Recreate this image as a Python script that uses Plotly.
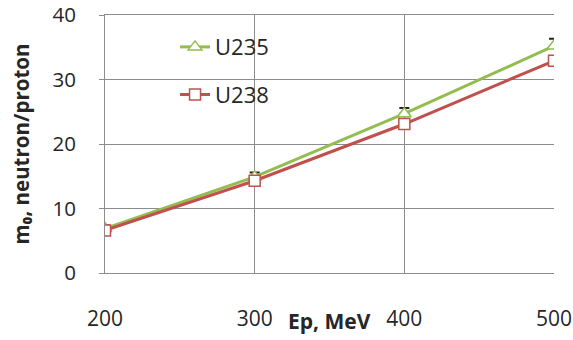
import plotly.graph_objects as go

ep = [200, 300, 400, 500]
u235 = [6.9, 14.9, 24.7, 35.2]
u235_err = [0.5, 0.7, 0.9, 1.1]
u238 = [6.6, 14.3, 23.1, 32.9]

green = "#94bd4f"
red = "#c0504d"
grid = "#8c8c8c"
font = "Open Sans, Liberation Sans, sans-serif"

fig = go.Figure()
fig.add_trace(go.Scatter(
    x=ep, y=u235, name="U235", mode="lines+markers", legendgroup="a",
    line=dict(color=green, width=3),
    marker=dict(symbol="triangle-up", size=12, color="white", line=dict(color=green, width=1.5)),
    error_y=dict(type="data", array=u235_err, arrayminus=[0, 0, 0, 0], color="#222222", thickness=2, width=5),
))
fig.add_trace(go.Scatter(
    x=ep, y=u238, name="U238", mode="lines+markers", legendgroup="b",
    line=dict(color=red, width=3),
    marker=dict(symbol="square", size=11, color="white", line=dict(color=red, width=1.5)),
))

# white panel behind the legend (hides gridlines like the original)
fig.add_shape(type="rect", xref="paper", yref="paper", x0=0.03, x1=0.452, y0=0.61, y1=0.985,
              fillcolor="white", line=dict(width=0), layer="between")

fig.add_annotation(text="<b>Ep, MeV</b>", xref="paper", yref="paper", x=0.499, y=-0.185,
                   xanchor="center", yanchor="middle", showarrow=False,
                   font=dict(size=21, family=font, color="#262626"))

fig.update_layout(
    width=573, height=340,
    margin=dict(l=105, r=19, t=15, b=67),
    paper_bgcolor="white", plot_bgcolor="white",
    font=dict(family=font, color="#262626"),
    showlegend=True,
    legend=dict(x=0.156, y=0.957, xanchor="left", yanchor="top", bgcolor="rgba(0,0,0,0)",
                font=dict(size=22, family=font, color="#262626"),
                tracegroupgap=16),
    xaxis=dict(range=[200, 500], tickvals=ep, ticktext=[str(v) for v in ep],
               showgrid=True, gridcolor=grid, gridwidth=1, automargin=False,
               showline=True, mirror=True, linecolor=grid, zeroline=False, ticklabeloverflow="allow",
               ticks="", tickfont=dict(size=21), ticklabelstandoff=27),
    yaxis=dict(range=[0, 40], tickvals=[0, 10, 20, 30, 40],
               showgrid=True, gridcolor=grid, gridwidth=1, automargin=False,
               showline=True, linecolor=grid, zeroline=False, ticklabeloverflow="allow",
               ticks="outside", ticklen=5, tickcolor=grid, tickfont=dict(size=20.5),
               ticklabelstandoff=19,
               title=dict(text="<b>m₀, neutron/proton</b>", font=dict(size=20.5), standoff=17)),
)

fig.write_html("out.html", config={"displayModeBar": False},
               post_script="document.body.style.margin='0';")
